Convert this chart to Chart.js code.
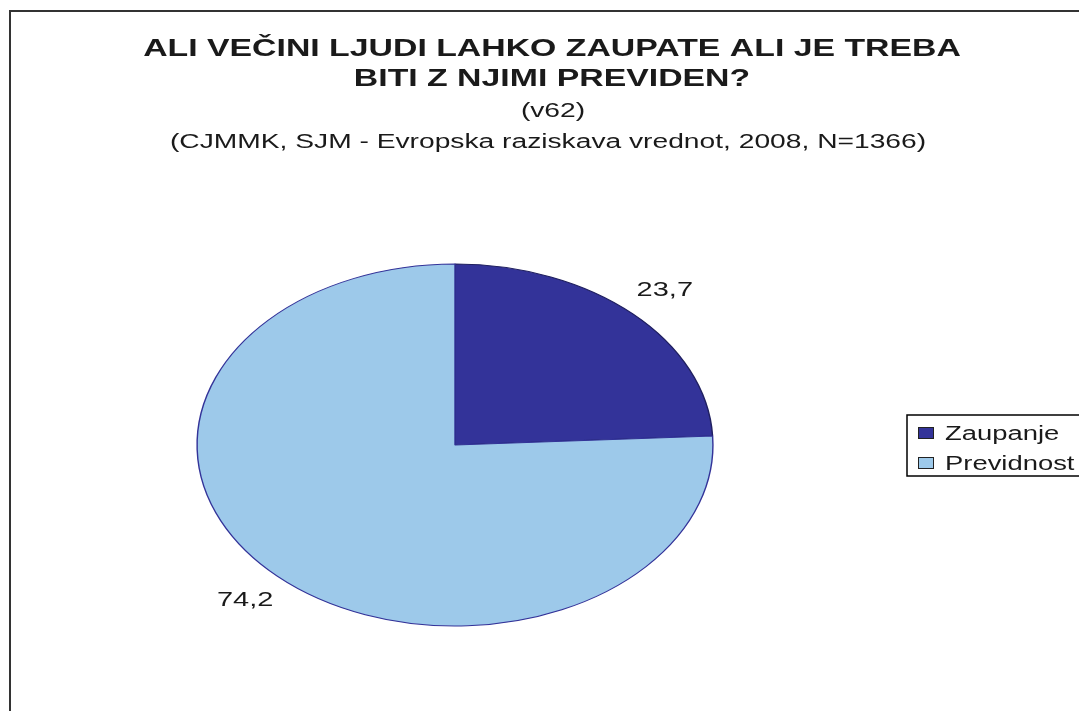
<!DOCTYPE html>
<html>
<head>
<meta charset="utf-8">
<script src="https://cdn.jsdelivr.net/npm/chart.js@4.4.1/dist/chart.umd.min.js"></script>
<style>
  html, body { margin: 0; padding: 0; background: #fff; }
  #wrap { width: 1079px; height: 711px; position: relative; }
</style>
</head>
<body>
<div id="wrap"><canvas id="mainCanvas"></canvas></div>
<script>
// data
const categories = ['Zaupanje', 'Previdnost'];
const shares = [23.7, 74.2];
const titleLines = ['ALI VEČINI LJUDI LAHKO ZAUPATE ALI JE TREBA', 'BITI Z NJIMI PREVIDEN?'];
const subtitleLines = ['(v62)', '(CJMMK, SJM - Evropska raziskava vrednot, 2008, N=1366)'];

const sliceColors = ['#333399', '#9dc9ea'];
const sliceBorders = ['#202060', '#333399'];
const STRETCH = 1.425;   // the original picture is stretched sideways
const FONT = '"Liberation Sans", Arial, sans-serif';

function stretchedText(ctx, text, x, y, font, sx, align) {
    ctx.save();
    ctx.font = font;
    ctx.textAlign = align || 'center';
    ctx.textBaseline = 'middle';
    ctx.translate(x, y);
    ctx.scale(sx, 1);
    ctx.fillText(text, 0, 0);
    ctx.restore();
}

// squash the round pie into an ellipse
const ellipsePlugin = {
    id: 'ellipse',
    beforeDatasetsDraw(chart) {
        const arc = chart.getDatasetMeta(0).data[0];
        const ctx = chart.ctx;
        ctx.save();
        ctx.translate(arc.x, arc.y);
        ctx.scale(STRETCH, 1);
        ctx.translate(-arc.x, -arc.y);
    },
    afterDatasetsDraw(chart) {
        chart.ctx.restore();
    }
};

const decorPlugin = {
    id: 'decor',
    afterDraw(chart) {
        const ctx = chart.ctx;
        // frame
        ctx.save();
        ctx.strokeStyle = '#333';
        ctx.lineWidth = 2;
        ctx.beginPath();
        ctx.moveTo(10, 720);
        ctx.lineTo(10, 11);
        ctx.lineTo(1090, 11);
        ctx.stroke();
        ctx.restore();

        ctx.fillStyle = '#1a1a1a';
        stretchedText(ctx, titleLines[0], 552, 50, 'bold 23px ' + FONT, 1.47);
        stretchedText(ctx, titleLines[1], 552, 80, 'bold 23px ' + FONT, 1.47);
        stretchedText(ctx, subtitleLines[0], 553, 111, '20px ' + FONT, 1.41);
        stretchedText(ctx, subtitleLines[1], 548, 142, '20px ' + FONT, 1.41);

        // value labels outside each slice
        const meta = chart.getDatasetMeta(0);
        meta.data.forEach((arc, i) => {
            const p = arc.getProps(['x', 'y', 'startAngle', 'endAngle', 'outerRadius'], true);
            const mid = (p.startAngle + p.endAngle) / 2;
            const r = p.outerRadius * 1.18;
            const lx = p.x + Math.cos(mid) * r * STRETCH;
            const ly = p.y + Math.sin(mid) * r;
            ctx.fillStyle = '#1a1a1a';
            stretchedText(ctx, shares[i].toFixed(1).replace('.', ','), lx, ly, '21px ' + FONT, 1.38);
        });

        // legend
        ctx.save();
        ctx.fillStyle = '#fff';
        ctx.fillRect(907, 415, 180, 61);
        ctx.strokeStyle = '#000';
        ctx.lineWidth = 1.5;
        ctx.strokeRect(907, 415, 180, 61);
        ctx.restore();
        categories.forEach((name, i) => {
            const y = 433 + i * 30;
            ctx.fillStyle = sliceColors[i];
            ctx.fillRect(918, y - 6, 16, 12);
            ctx.strokeStyle = '#222';
            ctx.lineWidth = 1;
            ctx.strokeRect(918.5, y - 5.5, 15, 11);
            ctx.fillStyle = '#1a1a1a';
            stretchedText(ctx, name, 945, y + 1, '20px ' + FONT, 1.37, 'left');
        });
    }
};

function initChart() {
    new Chart(document.getElementById('mainCanvas'), {
        type: 'pie',
        data: {
            labels: categories,
            datasets: [{
                data: shares,
                backgroundColor: sliceColors,
                borderColor: sliceBorders,
                borderWidth: 1
            }]
        },
        options: {
            responsive: true,
            maintainAspectRatio: false,
            animation: false,
            radius: 181,
            layout: { padding: { left: 274, right: 443, top: 264, bottom: 85 } },
            plugins: {
                legend: { display: false },
                title: { display: false },
                tooltip: { enabled: false }
            }
        },
        plugins: [ellipsePlugin, decorPlugin]
    });
}
initChart();
</script>
</body>
</html>
